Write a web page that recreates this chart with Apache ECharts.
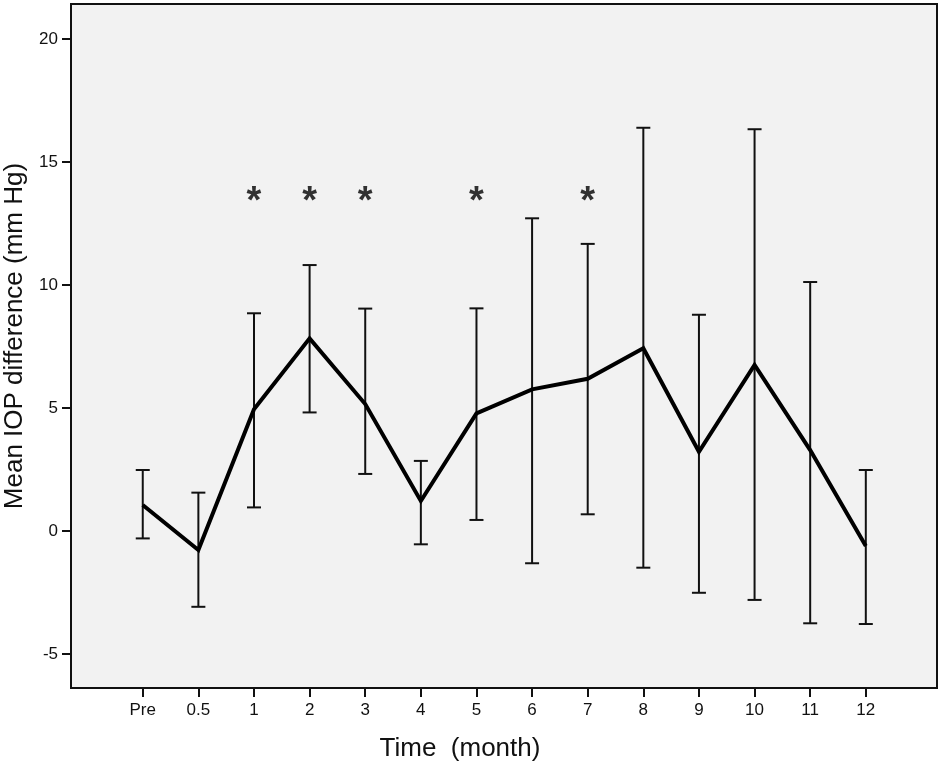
<!DOCTYPE html>
<html>
<head>
<meta charset="utf-8">
<script src="https://cdn.jsdelivr.net/npm/echarts@6/dist/echarts.min.js"></script>
<style>
html,body{margin:0;padding:0;background:#fff;}
#c{width:941px;height:767px;}
</style>
</head>
<body>
<div id="c"></div>
<script>
// ---- data ----
var categories = ['Pre','0.5','1','2','3','4','5','6','7','8','9','10','11','12'];
var meanValues = [1.06, -0.77, 4.95, 7.83, 5.16, 1.22, 4.78, 5.76, 6.19, 7.43, 3.22, 6.75, 3.29, -0.61];
var upperValues = [2.48, 1.56, 8.85, 10.81, 9.04, 2.85, 9.05, 12.71, 11.67, 16.39, 8.79, 16.33, 10.12, 2.48];
var lowerValues = [-0.30, -3.08, 0.96, 4.82, 2.32, -0.54, 0.45, -1.31, 0.68, -1.49, -2.51, -2.80, -3.75, -3.78];
var sigCategories = ['1','2','3','5','7'];
var sigLevel = 13.6;
var yTicks = [-5, 0, 5, 10, 15, 20];

var chart = echarts.init(document.getElementById('c'), null, {renderer:'canvas'});
var font = '"Liberation Sans", Arial, sans-serif';
var idx = categories.map(function(c,i){return i;});

var lineData = meanValues.map(function(v,i){return [i, v];});
var barData = idx.map(function(i){return [i, lowerValues[i], upperValues[i]];});
var sigData = sigCategories.map(function(c){return [categories.indexOf(c), sigLevel];});

var option = {
  animation: false,
  backgroundColor: '#fff',
  grid: {
    left: 71, right: 4, top: 4, bottom: 79,
    containLabel: false, outerBoundsMode: 'none',
    show: true, backgroundColor: '#f2f2f2', borderColor: '#111', borderWidth: 2
  },
  xAxis: {
    type: 'value', min: -1.29, max: 14.28,
    name: 'Time  (month)', nameLocation: 'middle', nameGap: 48,
    nameTextStyle: {fontFamily: font, fontSize: 26, color: '#111', padding: [0, 88, 0, 0]},
    axisLine: {show: false, onZero: false},
    splitLine: {show: false},
    axisTick: {show: true, inside: false, length: 9, customValues: idx, lineStyle: {color: '#111', width: 2}},
    axisLabel: {customValues: idx, margin: 14, fontFamily: font, fontSize: 17, color: '#111',
      formatter: function(v){ return categories[Math.round(v)]; }}
  },
  yAxis: {
    type: 'value', min: -6.38, max: 21.42,
    name: 'Mean IOP difference (mm Hg)', nameLocation: 'middle', nameGap: 35,
    nameTextStyle: {fontFamily: font, fontSize: 26, color: '#111', padding: [0, 0, 0, 20]},
    axisLine: {show: false, onZero: false},
    splitLine: {show: false},
    axisTick: {show: true, inside: false, length: 9, customValues: yTicks, lineStyle: {color: '#111', width: 2}},
    axisLabel: {customValues: yTicks, margin: 13, fontFamily: font, fontSize: 17, color: '#111'}
  },
  series: [
    {
      type: 'custom',
      data: barData,
      z: 2,
      renderItem: function(params, api){
        var x = api.value(0);
        var lo = api.coord([x, api.value(1)]);
        var hi = api.coord([x, api.value(2)]);
        var hw = 7;
        var st = {stroke: '#111', lineWidth: 2};
        return {
          type: 'group',
          children: [
            {type:'line', shape:{x1:lo[0], y1:lo[1], x2:hi[0], y2:hi[1]}, style: st},
            {type:'line', shape:{x1:hi[0]-hw, y1:hi[1], x2:hi[0]+hw, y2:hi[1]}, style: st},
            {type:'line', shape:{x1:lo[0]-hw, y1:lo[1], x2:lo[0]+hw, y2:lo[1]}, style: st}
          ]
        };
      }
    },
    {
      type: 'line',
      data: lineData,
      z: 3,
      symbol: 'none',
      lineStyle: {color: '#000', width: 4, join: 'miter'}
    },
    {
      type: 'scatter',
      data: sigData,
      symbolSize: 1,
      itemStyle: {color: 'rgba(0,0,0,0)'},
      label: {show: true, position: 'inside', formatter: '*', offset: [0, 6],
        fontFamily: font, fontWeight: 'bold', fontSize: 38, color: '#000'}
    }
  ]
};
chart.setOption(option);
</script>
</body>
</html>
